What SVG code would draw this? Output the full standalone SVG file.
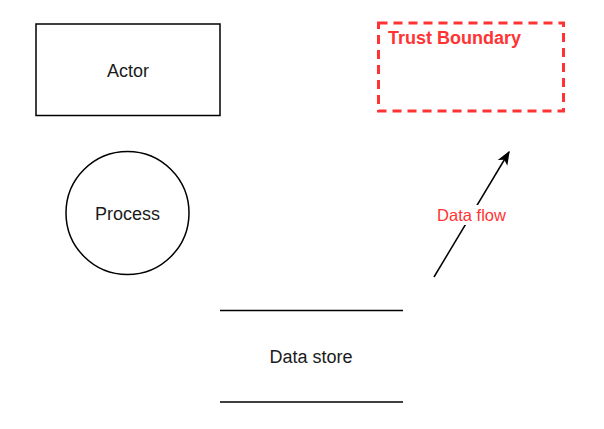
<svg xmlns="http://www.w3.org/2000/svg" width="604" height="429" viewBox="0 0 604 429">
<style>
.shape{fill:#fff;stroke:#000;stroke-width:1.5}
.lbl{font-family:"Liberation Sans",Arial,sans-serif;font-size:18px;fill:#1a1a1a;text-anchor:middle}
.red{fill:#ff3333}
</style>
<defs>
<marker id="arr" viewBox="0 0 10 10" refX="9" refY="5" markerWidth="14" markerHeight="14" markerUnits="userSpaceOnUse" orient="auto">
<path d="M0,1 L10,5 L0,9 L2.5,5 Z" fill="#000"/>
</marker>
</defs>
<rect width="604" height="429" fill="#fff"/>
<g id="actor">
<rect class="shape" x="36" y="24" width="184" height="91.5"/>
<text class="lbl" x="128" y="77">Actor</text>
</g>
<g id="process">
<circle class="shape" cx="127.5" cy="213" r="61.5"/>
<text class="lbl" x="127.5" y="219.5">Process</text>
</g>
<g id="datastore">
<line x1="220" y1="310.5" x2="403" y2="310.5" stroke="#000" stroke-width="1.5"/>
<line x1="220" y1="402" x2="403" y2="402" stroke="#000" stroke-width="1.5"/>
<text class="lbl" x="311" y="363">Data store</text>
</g>
<g id="trust-boundary">
<rect x="378.5" y="23" width="185" height="88" fill="none" stroke="#ff3333" stroke-width="3" stroke-dasharray="9 6"/>
<text class="lbl red" x="388" y="44" style="text-anchor:start;font-weight:bold">Trust Boundary</text>
</g>
<g id="connectors">
<line x1="434" y1="277" x2="509" y2="152" stroke="#000" stroke-width="1.5" marker-end="url(#arr)"/>
<rect x="436" y="205" width="71" height="20" fill="#fff"/>
<text class="lbl red" x="471.5" y="221" style="font-size:16.5px">Data flow</text>
</g>
</svg>
